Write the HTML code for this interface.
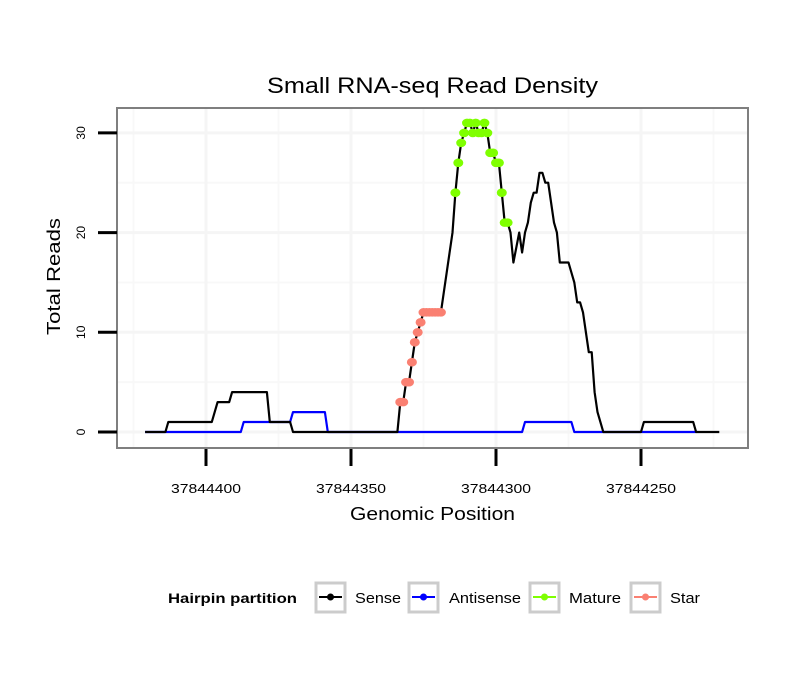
<!DOCTYPE html>
<html><head><meta charset="utf-8"><style>
body{margin:0;background:#fff;width:810px;height:690px;overflow:hidden}
svg text{font-family:"Liberation Sans",sans-serif}
</style></head><body>
<svg id="chart" width="810" height="690">
<text x="267" y="93" font-size="22" textLength="331" lengthAdjust="spacingAndGlyphs">Small RNA-seq Read Density</text>
<g id="grid"></g>
<g id="series"></g>
<rect x="117" y="108" width="631" height="340" fill="none" stroke="#7f7f7f" stroke-width="2"/>
<g id="axes"></g>
<text x="350" y="520" font-size="18" textLength="165" lengthAdjust="spacingAndGlyphs">Genomic Position</text>
<text transform="translate(60,335) rotate(-90)" font-size="18" textLength="117" lengthAdjust="spacingAndGlyphs">Total Reads</text>
<g>
<text x="168" y="603" font-size="14" font-weight="bold" textLength="129" lengthAdjust="spacingAndGlyphs">Hairpin partition</text>
<g><rect x="316" y="583" width="29" height="29" fill="#fff" stroke="#cccccc" stroke-width="3"/><line x1="319" y1="597" x2="342" y2="597" stroke="#000" stroke-width="2"/><circle cx="330.5" cy="597" r="3.5" fill="#000"/><text x="355" y="603" font-size="15" textLength="46" lengthAdjust="spacingAndGlyphs">Sense</text></g>
<g><rect x="409" y="583" width="29" height="29" fill="#fff" stroke="#cccccc" stroke-width="3"/><line x1="412" y1="597" x2="435" y2="597" stroke="#0000ff" stroke-width="2"/><circle cx="423.5" cy="597" r="3.5" fill="#0000ff"/><text x="449" y="603" font-size="15" textLength="72" lengthAdjust="spacingAndGlyphs">Antisense</text></g>
<g><rect x="530" y="583" width="29" height="29" fill="#fff" stroke="#cccccc" stroke-width="3"/><line x1="533" y1="597" x2="556" y2="597" stroke="#7fff00" stroke-width="2"/><circle cx="544.5" cy="597" r="3.5" fill="#7fff00"/><text x="569" y="603" font-size="15" textLength="52" lengthAdjust="spacingAndGlyphs">Mature</text></g>
<g><rect x="631" y="583" width="29" height="29" fill="#fff" stroke="#cccccc" stroke-width="3"/><line x1="634" y1="597" x2="657" y2="597" stroke="#fa8072" stroke-width="2"/><circle cx="645.5" cy="597" r="3.5" fill="#fa8072"/><text x="670" y="603" font-size="15" textLength="30" lengthAdjust="spacingAndGlyphs">Star</text></g>
</g>
</svg>
<script>
const BASE = 37844000;
const xTicks = [37844400, 37844350, 37844300, 37844250];
const xTickLabels = ["37844400", "37844350", "37844300", "37844250"];
const yTicks = [0, 10, 20, 30];
const yTickLabels = ["0", "10", "20", "30"];
const sensePos = [421,414,413,398,396,392,391,379,378,371,370,335,334,333,332,331,330,329,328,327,326,325,324,323,322,321,320,319,318,317,316,315,314,313,312,311,310,309,308,307,306,305,304,303,302,301,300,299,298,297,296,295,294,293,292,291,290,289,288,287,286,285,284,283,282,281,280,279,278,277,276,275,274,273,272,271,270,269,268,267,266,265,263,250,249,232,231,223];
const senseVal = [0,0,1,1,3,3,4,4,1,1,0,0,0,3,3,5,5,7,9,10,11,12,12,12,12,12,12,12,14,16,18,20,24,27,29,30,31,31,30,31,30,30,31,30,28,28,27,27,24,21,21,20,17,18.5,20,18,20,21,23,24,24,26,26,25,25,23,21,20,17,17,17,17,16,15,13,13,12,10,8,8,4,2,0,0,1,1,0,0];
const antiPos = [421,388,387,371,370,359,358,291,290,274,273,231];
const antiVal = [0,0,1,1,2,2,0,0,1,1,0,0];
const matPos = [314,313,312,311,310,309,308,307,306,305,304,303,302,301,300,299,298,297,296];
const matVal = [24,27,29,30,31,31,30,31,30,30,31,30,28,28,27,27,24,21,21];
const starPos = [333,332,331,330,329,328,327,326,325,324,323,322,321,320,319];
const starVal = [3,3,5,5,7,9,10,11,12,12,12,12,12,12,12];

const NS = "http://www.w3.org/2000/svg";
const xS = p => 206 + (37844400 - p) * 2.9;
const xR = p => xS(BASE + p);
const yS = v => 432 - v * 9.97;
function mk(tag, attrs, parent){const e=document.createElementNS(NS,tag);for(const k in attrs)e.setAttribute(k,attrs[k]);parent.appendChild(e);return e;}
const grid=document.getElementById('grid'), series=document.getElementById('series'), axes=document.getElementById('axes');
mk('rect',{x:117,y:108,width:631,height:340,fill:'#fff'},grid);
for(let i=0;i<yTicks.length;i++){const v=yTicks[i]+5;const y=yS(v);if(y<110)continue;const l=mk('line',{x1:118,x2:747,y1:y,y2:y,stroke:'#f8f8f8','stroke-width':2},grid);

}
for(let i=0;i<xTicks.length;i++){const x=xS(xTicks[i]+25);if(x<118)continue;const l=mk('line',{x1:x,x2:x,y1:109,y2:447,stroke:'#f8f8f8','stroke-width':2},grid);

}
{const x=xS(xTicks[xTicks.length-1]-25);const l=mk('line',{x1:x,x2:x,y1:109,y2:447,stroke:'#f8f8f8','stroke-width':2},grid);

}
for(let i=0;i<yTicks.length;i++){const y=yS(yTicks[i]);const l=mk('line',{x1:118,x2:747,y1:y,y2:y,stroke:'#f5f5f5','stroke-width':3},grid);


const t=mk('line',{x1:98,x2:117,y1:y,y2:y,stroke:'#000','stroke-width':3},axes);


const tx=mk('text',{transform:`translate(85,${y}) rotate(-90)`,'font-size':12,'text-anchor':'middle'},axes);tx.textContent=yTickLabels[i];

}
for(let i=0;i<xTicks.length;i++){const x=xS(xTicks[i]);const l=mk('line',{x1:x,x2:x,y1:109,y2:447,stroke:'#f5f5f5','stroke-width':3},grid);


const t=mk('line',{x1:x,x2:x,y1:449,y2:466,stroke:'#000','stroke-width':3},axes);


const tx=mk('text',{x:x-35,y:493,'font-size':13,textLength:70,lengthAdjust:'spacingAndGlyphs'},axes);tx.textContent=xTickLabels[i];

}
function line(pos,val,color,name){const pts=pos.map((p,i)=>xR(p).toFixed(1)+','+yS(val[i]).toFixed(1)).join(' ');
const l=mk('polyline',{points:pts,fill:'none',stroke:color,'stroke-width':2.2,'stroke-linejoin':'round'},series);

}
function dots(pos,val,color,name){for(let i=0;i<pos.length;i++){const c=mk('ellipse',{cx:xR(pos[i]),cy:yS(val[i]),rx:5,ry:4.3,fill:color},series);

}}
line(antiPos,antiVal,'#0000ff','antisense-line');
line(sensePos,senseVal,'#000','sense-line');
dots(starPos,starVal,'#fa8072','star-point');
dots(matPos,matVal,'#7fff00','mature-point');
</script>
</body></html>
